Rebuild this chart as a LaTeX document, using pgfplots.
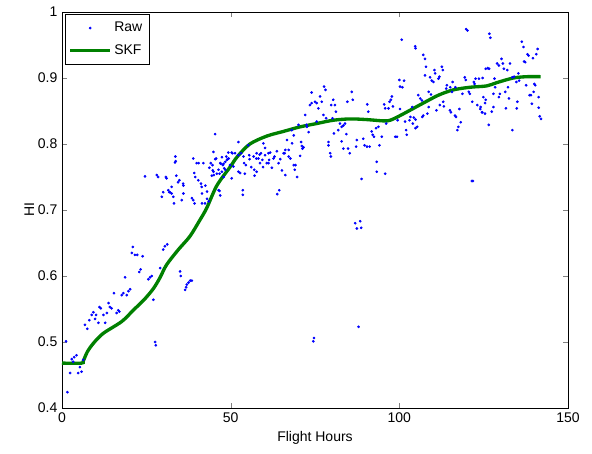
\documentclass[border=0pt]{standalone}
\usepackage{pgfplots}
\pgfplotsset{compat=1.18}
\usepackage{fontspec}
\setmainfont{Liberation Sans}
\definecolor{skf}{rgb}{0,0.5,0}
\begin{document}
\begin{tikzpicture}
\begin{axis}[
  scale only axis,
  width=379.5pt, height=297pt,
  xmin=0, xmax=150, ymin=0.4, ymax=1,
  xtick={0,50,100,150},
  ytick={0.4,0.5,0.6,0.7,0.8,0.9,1},
  tick align=inside,
  tick pos=both,
  major tick length=4pt,
  /pgf/number format/assume math mode=true,
  tick label style={font=\fontsize{10.5}{12}\selectfont},
  label style={font=\fontsize{10.5}{12}\selectfont},
  xlabel={Flight Hours},
  ylabel={HI},
  ylabel style={yshift=-4pt},
  legend style={font=\fontsize{10.5}{12}\selectfont, draw=black, at={(0.005,0.995)}, anchor=north west, row sep=4pt, inner xsep=3pt, inner ysep=4pt},
  legend cell align=left,
]
\addlegendimage{only marks, mark=*, mark size=0.8pt, blue, legend image code/.code={\draw[mark repeat=2,mark phase=2] plot coordinates {(0cm,0cm) (0.52cm,0cm) (1.04cm,0cm)};}}
\addlegendentry{Raw}
\addlegendimage{skf, line width=2.5pt, legend image code/.code={\draw (0cm,0cm) -- (1.04cm,0cm);}}
\addlegendentry{SKF}
\addplot[only marks, mark=*, mark size=0.8pt, blue, forget plot] table {
1.2 0.501
1.6 0.424
2.4 0.453
2.9 0.474
3.3 0.470
3.6 0.477
4.3 0.480
4.8 0.453
5.3 0.462
5.8 0.455
6.3 0.473
6.8 0.526
7.5 0.520
8.1 0.533
8.8 0.541
9.3 0.545
9.8 0.535
10.1 0.541
10.8 0.529
11.1 0.553
11.5 0.551
12.3 0.541
12.8 0.529
13.3 0.544
13.8 0.559
14.2 0.553
14.7 0.551
15.4 0.574
16.2 0.544
16.7 0.548
17.0 0.546
17.7 0.571
18.2 0.574
18.7 0.598
19.2 0.571
19.7 0.577
20.2 0.580
20.7 0.635
21.0 0.644
21.6 0.632
22.3 0.632
22.9 0.606
23.3 0.610
23.9 0.630
24.6 0.751
25.6 0.595
26.1 0.598
26.6 0.600
27.1 0.564
27.6 0.500
27.8 0.495
28.1 0.753
28.5 0.750
29.1 0.612
29.6 0.720
30.0 0.727
30.0 0.640
30.5 0.645
30.8 0.750
31.0 0.748
31.2 0.648
31.5 0.730
31.8 0.727
32.0 0.727
32.5 0.735
32.5 0.725
33.0 0.720
33.2 0.710
33.5 0.772
33.6 0.781
33.7 0.774
33.9 0.752
34.4 0.742
34.8 0.745
35.0 0.607
35.2 0.600
35.5 0.715
35.9 0.740
36.0 0.737
36.0 0.725
36.5 0.579
36.8 0.583
37.0 0.587
37.5 0.590
38.0 0.593
38.5 0.593
38.5 0.718
38.9 0.715
38.9 0.778
39.2 0.756
39.3 0.710
39.5 0.750
39.9 0.771
40.4 0.745
40.5 0.771
41.2 0.740
41.4 0.735
41.5 0.725
41.5 0.710
41.9 0.771
42.4 0.710
42.5 0.737
43.0 0.728
43.0 0.717
43.5 0.713
43.7 0.764
44.1 0.771
44.4 0.752
44.6 0.768
44.7 0.760
44.9 0.788
44.9 0.758
45.0 0.753
45.4 0.815
45.4 0.777
45.7 0.778
45.9 0.755
46.4 0.730
46.4 0.761
46.7 0.755
46.7 0.729
46.9 0.771
46.9 0.722
47.1 0.770
47.4 0.780
47.4 0.758
47.7 0.768
47.9 0.770
47.9 0.750
48.1 0.763
48.4 0.773
48.4 0.761
48.7 0.781
48.9 0.776
49.1 0.777
49.3 0.787
49.4 0.778
49.8 0.768
50.3 0.787
50.3 0.748
50.5 0.786
50.8 0.766
51.3 0.786
52.3 0.803
52.3 0.783
52.3 0.758
52.8 0.756
53.1 0.786
53.6 0.730
53.6 0.723
53.8 0.781
54.0 0.771
54.2 0.755
54.5 0.768
55.2 0.798
55.5 0.783
55.6 0.777
56.1 0.765
56.8 0.781
57.0 0.761
57.1 0.752
57.6 0.778
57.7 0.758
57.7 0.786
58.2 0.778
58.6 0.784
58.7 0.771
59.0 0.786
59.4 0.776
59.6 0.765
59.7 0.801
60.2 0.783
60.2 0.794
60.7 0.771
61.2 0.771
61.2 0.786
61.4 0.776
61.7 0.787
62.2 0.764
62.7 0.778
63.0 0.781
63.7 0.789
63.8 0.724
64.2 0.771
64.4 0.730
64.7 0.777
65.2 0.760
65.7 0.786
66.0 0.786
66.2 0.753
66.2 0.791
66.7 0.806
67.2 0.791
67.2 0.781
67.7 0.778
68.1 0.821
68.2 0.801
68.7 0.813
68.7 0.768
69.0 0.761
69.2 0.768
69.7 0.750
70.1 0.829
70.6 0.782
70.9 0.803
71.1 0.797
71.3 0.793
71.6 0.795
72.1 0.844
72.5 0.829
72.6 0.826
73.1 0.818
73.5 0.859
74.0 0.862
74.0 0.878
74.5 0.501
74.7 0.506
75.0 0.864
75.5 0.862
75.5 0.834
76.0 0.854
76.5 0.872
77.0 0.864
77.5 0.844
77.7 0.887
78.1 0.882
78.3 0.839
79.0 0.803
79.0 0.798
79.5 0.786
79.7 0.781
79.8 0.859
80.2 0.839
80.4 0.867
80.6 0.816
80.9 0.859
81.2 0.849
81.9 0.821
82.4 0.831
82.9 0.826
82.9 0.804
83.4 0.828
83.4 0.793
83.9 0.831
84.3 0.815
84.6 0.864
84.8 0.793
85.3 0.786
85.9 0.879
86.2 0.867
86.9 0.680
87.2 0.796
87.4 0.672
87.4 0.806
87.9 0.523
88.4 0.683
88.7 0.673
88.8 0.747
89.3 0.808
89.7 0.798
90.4 0.796
90.5 0.860
90.8 0.849
91.2 0.796
91.8 0.819
92.1 0.814
92.5 0.811
93.1 0.824
93.3 0.773
93.3 0.758
93.8 0.826
94.1 0.798
94.8 0.811
95.5 0.860
95.8 0.854
95.8 0.755
96.1 0.831
96.8 0.854
97.1 0.864
97.5 0.867
97.8 0.872
98.1 0.857
98.8 0.811
99.3 0.811
99.5 0.836
100.0 0.897
100.2 0.887
100.2 0.853
100.7 0.958
100.9 0.886
101.4 0.896
101.7 0.834
102.0 0.821
102.2 0.814
103.0 0.836
103.3 0.841
103.8 0.856
104.0 0.831
104.3 0.840
104.7 0.948
104.8 0.945
104.8 0.837
104.8 0.824
105.3 0.826
105.6 0.874
106.2 0.869
106.7 0.866
106.8 0.841
107.1 0.843
107.1 0.935
107.6 0.929
107.6 0.904
107.9 0.917
108.3 0.846
108.7 0.879
108.7 0.856
109.1 0.901
109.4 0.875
109.6 0.896
110.1 0.894
110.4 0.912
110.6 0.907
111.0 0.851
111.6 0.899
111.9 0.902
112.0 0.859
112.6 0.917
112.9 0.912
113.0 0.864
113.2 0.857
113.9 0.884
114.1 0.889
115.0 0.851
115.1 0.886
115.3 0.848
115.6 0.879
115.8 0.894
116.5 0.843
116.6 0.886
116.8 0.841
117.2 0.821
117.5 0.826
117.8 0.853
118.2 0.833
118.7 0.876
119.4 0.901
119.7 0.897
119.8 0.974
120.2 0.972
120.6 0.879
120.9 0.876
121.5 0.744
121.6 0.864
121.8 0.744
122.1 0.894
122.3 0.891
122.6 0.899
123.1 0.859
123.6 0.899
124.0 0.853
124.1 0.856
124.5 0.848
124.6 0.848
124.7 0.900
124.9 0.871
125.4 0.862
125.4 0.846
125.6 0.867
125.6 0.914
126.2 0.915
126.5 0.829
126.6 0.914
126.7 0.967
127.0 0.961
127.4 0.849
127.9 0.856
127.9 0.876
128.2 0.899
128.4 0.886
129.0 0.922
129.5 0.919
129.5 0.871
129.8 0.876
130.3 0.929
130.7 0.922
131.0 0.914
131.4 0.879
131.6 0.854
132.0 0.912
132.2 0.886
132.5 0.869
132.8 0.922
133.5 0.901
133.5 0.821
134.0 0.902
134.7 0.894
134.8 0.854
135.0 0.864
135.3 0.907
135.5 0.896
136.3 0.955
136.8 0.947
137.0 0.925
137.3 0.924
137.6 0.889
138.0 0.936
138.3 0.934
138.6 0.874
139.0 0.874
139.3 0.861
139.6 0.930
139.8 0.879
140.0 0.891
140.3 0.889
140.6 0.936
141.0 0.944
141.3 0.871
141.3 0.855
141.6 0.842
142.0 0.838
};
\addplot[skf, line width=2.5pt, smooth, forget plot] table {
0 0.468
5.8 0.468
6.3 0.471
7.5 0.485
9.3 0.498
12.2 0.513
17.7 0.531
21.1 0.548
24.5 0.565
27.1 0.581
29.0 0.597
31.0 0.617
34.5 0.640
37.9 0.660
40.9 0.685
42.9 0.703
45.9 0.737
49.8 0.765
52.0 0.781
55.7 0.800
60.7 0.812
65.6 0.819
70.6 0.826
75.5 0.831
80.4 0.836
85.4 0.838
90.3 0.837
95.3 0.835
97.3 0.836
100.2 0.843
104.2 0.854
107.1 0.862
111.6 0.874
116.0 0.882
121.0 0.886
125.9 0.888
128.9 0.893
133.8 0.900
137.8 0.902
141.9 0.902
};
\end{axis}
\pgfresetboundingbox
\path ([shift={(-46.5pt,-33.75pt)}]current axis.south west) rectangle ([shift={(18pt,9pt)}]current axis.north east);
\end{tikzpicture}
\end{document}
